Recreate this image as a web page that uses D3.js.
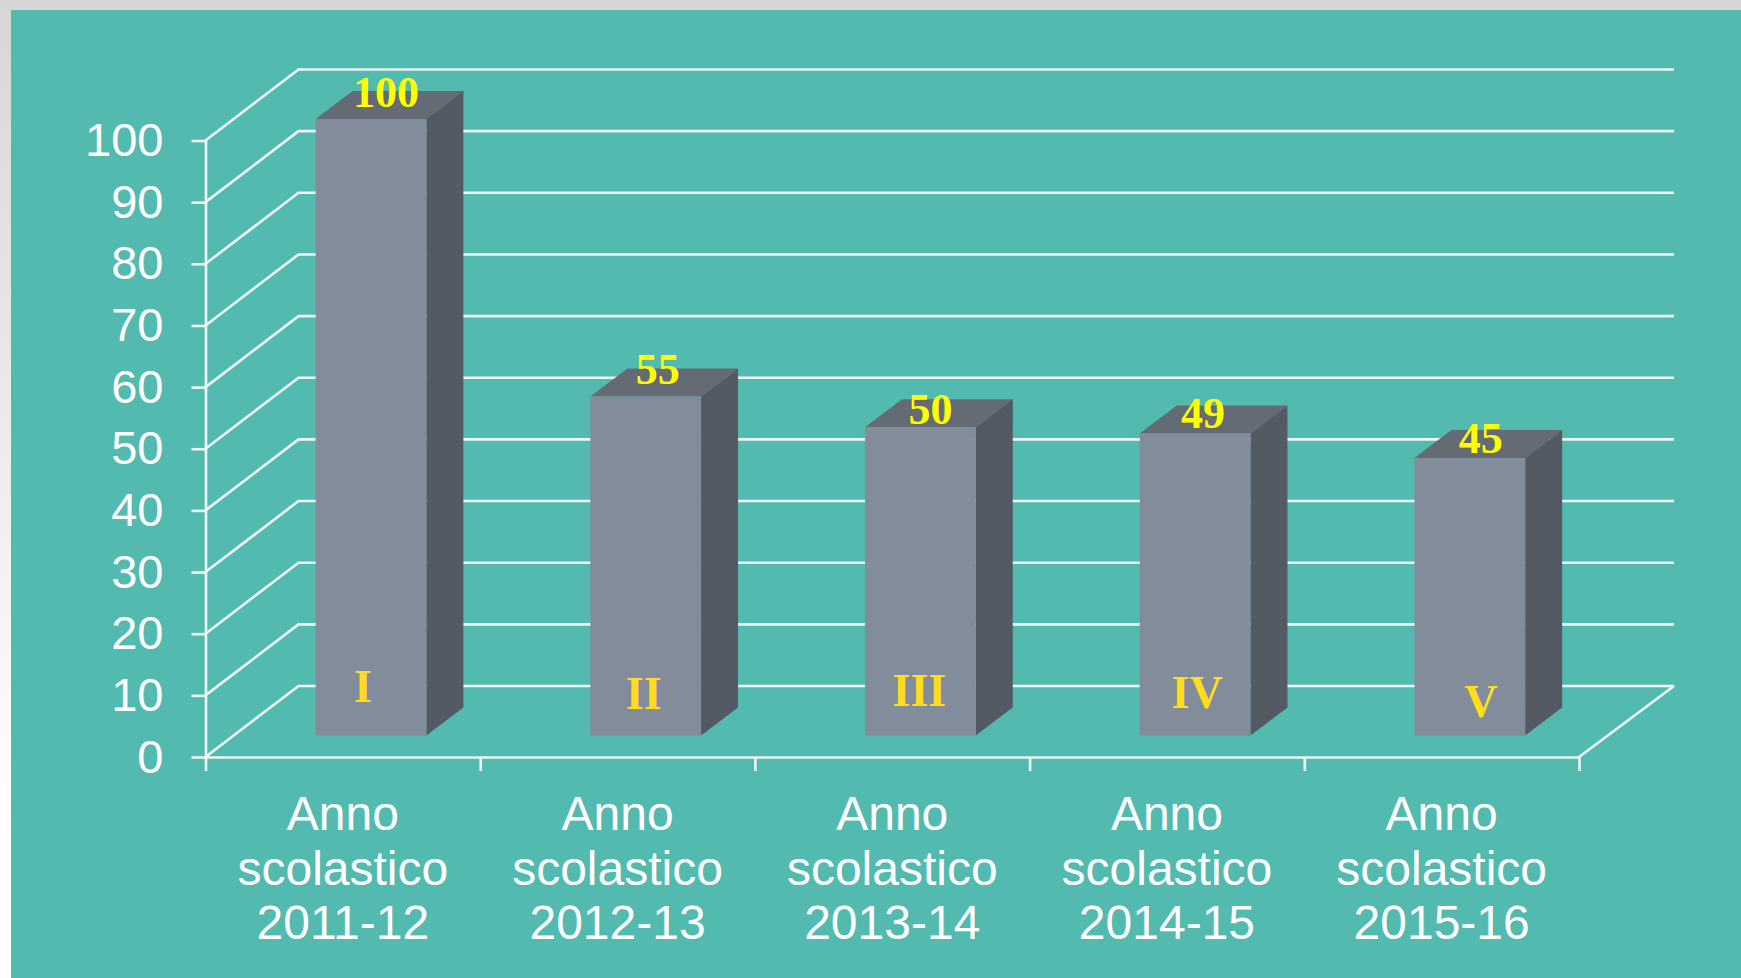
<!DOCTYPE html>
<html>
<head>
<meta charset="utf-8">
<script src="https://cdn.jsdelivr.net/npm/d3@7"></script>
<style>
  html, body { margin: 0; padding: 0; background: #fff; }
  svg { display: block; }
</style>
</head>
<body>
<svg id="chart" width="1741" height="978"></svg>
<script>
const years = ["2011-12", "2012-13", "2013-14", "2014-15", "2015-16"];
const values = [100, 55, 50, 49, 45];
const numerals = ["I", "II", "III", "IV", "V"];
const yTicks = [0, 10, 20, 30, 40, 50, 60, 70, 80, 90, 100];

// the labels were placed by hand in the original, so they are not centred
const valueNudge = [[15, -1], [12, -1], [10, 8], [8, 6], [11, 6]];
const numeralNudge = [[-8, -2], [-2, 5], [-1, 2], [2, 4], [11, 13]];

const width = 1741, height = 978;
const x0 = 205.5, x1 = 1579, y0 = 757, y100 = 140.5;
const depthX = 93, depthY = 71;      // whole floor
const wallRight = 1674;
const barDepthX = 37, barDepthY = 28;
const barInset = 21.5;               // how far back the bars stand

const svg = d3.select("#chart");

const defs = svg.append("defs");
const grad = defs.append("linearGradient").attr("id", "page").attr("x1", 0).attr("y1", 0).attr("x2", 0).attr("y2", 1);
grad.append("stop").attr("offset", 0).attr("stop-color", "#d6d6d6");
grad.append("stop").attr("offset", 0.85).attr("stop-color", "#ffffff");

svg.append("rect").attr("width", width).attr("height", height).attr("fill", "url(#page)");
svg.append("rect").attr("x", 11).attr("y", 10).attr("width", width - 11).attr("height", height - 10).attr("fill", "#53bab0");

const x = d3.scaleBand().domain(years).range([x0, x1]);
const xEdges = d3.scaleLinear().domain([0, years.length]).range([x0, x1]);
const y = d3.scaleLinear().domain([0, 100]).range([y0, y100]);

const lineColor = "#eef7f5";
const lineWidth = 2.6;

// back wall and side wall
const grid = svg.append("g").attr("fill", "none").attr("stroke", lineColor).attr("stroke-width", lineWidth);
grid.selectAll("path")
  .data(yTicks)
  .enter()
  .append("path")
  .attr("d", function (d) {
    return d3.line()([[x0, y(d)], [x0 + depthX, y(d) - depthY], [wallRight, y(d) - depthY]]);
  });
grid.append("path")
  .attr("d", d3.line()([[x1, y0], [wallRight, y0 - depthY]]));

// y axis
const yAxis = svg.append("g")
  .attr("transform", "translate(" + x0 + ",0)")
  .call(d3.axisLeft(y).tickValues(yTicks).tickSize(14).tickPadding(28).tickSizeOuter(0));
yAxis.select(".domain").attr("stroke", lineColor).attr("stroke-width", lineWidth);
yAxis.selectAll(".tick line").attr("stroke", lineColor).attr("stroke-width", lineWidth);
yAxis.selectAll(".tick text")
  .attr("fill", "#fff")
  .attr("font-family", "'Liberation Sans'")
  .attr("font-size", 47);

// x axis: the ticks fall between the categories
const xAxis = svg.append("g")
  .attr("transform", "translate(0," + y0 + ")")
  .call(d3.axisBottom(xEdges).tickValues(d3.range(years.length + 1)).tickSize(14).tickSizeOuter(0).tickFormat(""));
xAxis.select(".domain").attr("stroke", lineColor).attr("stroke-width", lineWidth);
xAxis.selectAll(".tick line").attr("stroke", lineColor).attr("stroke-width", lineWidth);

const catLabels = svg.append("g")
  .attr("font-family", "'Liberation Sans'")
  .attr("font-size", 48)
  .attr("fill", "#fff")
  .attr("text-anchor", "middle")
  .selectAll("text")
  .data(years)
  .enter()
  .append("text")
  .attr("y", 830);
catLabels.each(function (d) {
  const cx = x(d) + x.bandwidth() / 2;
  const t = d3.select(this);
  t.append("tspan").attr("x", cx).text("Anno");
  t.append("tspan").attr("x", cx).attr("dy", 54.6).text("scolastico");
  t.append("tspan").attr("x", cx).attr("dy", 54.6).text(d);
});

// bars
const barWidth = x.bandwidth() * 0.403;
const barX = function (d) {
  return x(d) + (x.bandwidth() - barWidth) / 2 + barInset * depthX / depthY;
};
const bars = svg.append("g").selectAll("g")
  .data(years)
  .enter()
  .append("g");

bars.each(function (d, i) {
  const g = d3.select(this);
  const left = barX(d), right = left + barWidth;
  const bottom = y(0) - barInset, top = y(values[i]) - barInset;
  g.append("path")
    .attr("fill", "#646b75")
    .attr("d", d3.line()([[left, top], [left + barDepthX, top - barDepthY], [right + barDepthX, top - barDepthY], [right, top]]) + "Z");
  g.append("path")
    .attr("fill", "#535a64")
    .attr("d", d3.line()([[right, top], [right + barDepthX, top - barDepthY], [right + barDepthX, bottom - barDepthY], [right, bottom]]) + "Z");
  g.append("rect")
    .attr("x", left)
    .attr("y", top)
    .attr("width", barWidth)
    .attr("height", bottom - top)
    .attr("fill", "#828c9b");
});

// value labels on the top of each bar
svg.append("g")
  .attr("font-family", "'Liberation Serif'")
  .attr("font-weight", "bold")
  .attr("font-size", 44)
  .attr("fill", "#ffff00")
  .attr("text-anchor", "middle")
  .selectAll("text")
  .data(years)
  .enter()
  .append("text")
  .attr("x", function (d, i) { return barX(d) + barWidth / 2 + valueNudge[i][0]; })
  .attr("y", function (d, i) { return y(values[i]) - barInset + valueNudge[i][1] - 11; })
  .text(function (d, i) { return values[i]; });

// I, II, III... near the foot of each bar
svg.append("g")
  .attr("font-family", "'Liberation Serif'")
  .attr("font-weight", "bold")
  .attr("font-size", 46)
  .attr("fill", "#ffdd1c")
  .attr("text-anchor", "middle")
  .selectAll("text")
  .data(years)
  .enter()
  .append("text")
  .attr("x", function (d, i) { return barX(d) + barWidth / 2 + numeralNudge[i][0]; })
  .attr("y", function (d, i) { return y(0) - barInset - 32 + numeralNudge[i][1]; })
  .text(function (d, i) { return numerals[i]; });
</script>
</body>
</html>
